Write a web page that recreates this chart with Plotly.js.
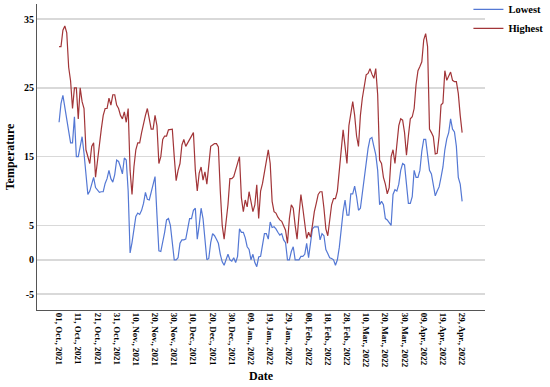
<!DOCTYPE html>
<html>
<head>
<meta charset="utf-8">
<script src="https://cdn.plot.ly/plotly-3.0.1.min.js"></script>
<style>
html,body{margin:0;padding:0;background:#fff;}
#chart{width:550px;height:387px;}
</style>
</head>
<body>
<div id="chart"></div>
<script>
// Daily series starting 01 Oct 2021 (211 days, to 29 Apr 2022)
var startDate = '2021-10-01';
var highest = [
31,31,33.4,34,33,28,26,22,25,25,
20.5,25,23,22,16,15,14,16.5,17,12,
14.5,16.5,19,21,22,22,23.5,22.5,24,24,
22.5,22,21,20.5,21.5,20,22,13,9.5,13.5,
16,17,17,18.5,20,21,22,20.5,19,19,
21,19.5,14,15,17.5,18,18,18.9,19,19,
15,11.5,13,14,16.7,17.5,16.5,17,17.3,18,
18.5,13,10,12.6,13.5,11.6,12.8,11,14,16.5,
16.7,16.9,16.9,16.4,10,5,3,5.3,8,11.8,
11.8,12.1,13,14,15,9,7,8.7,7.7,9.9,
8.2,7,8,10.9,6,10,11.1,12.6,14,16,
14,8.5,7,6.8,6.2,5.8,5.6,5,4.3,2.4,
6,8,7.5,5,3,6.5,9.5,7.5,5,3.1,
4,3.3,5,7,8.2,9.5,9.9,9.9,7.5,4.5,
3.5,5.8,8,8.9,8.9,10,13,16,18.9,16.5,
14,19.5,21.5,23,21,18,16.5,21,23.5,25.5,
26.9,27.1,27.8,27,26.4,27.8,24,14.5,14,12,
11,9.6,10.5,15,16,14,17,19.5,20.5,20.3,
18.5,15.2,18,20.5,20.8,22,25.5,27.5,28.1,28.8,
32,32.9,31,19,18.5,17.9,15.4,15.5,18,22.5,
22.8,27.5,26.1,26.8,27.3,26.1,25.9,25.9,24.2,21,
18.5
];
var lowest = [
20,22.7,23.9,22,20,18.7,17,17,20.8,15,
15,16.4,17.9,15.5,12,9.5,10,11.1,12,10.5,
10.1,9.8,9.9,9.9,11.1,11.8,13,11.8,11.3,12.4,
14.5,14.3,13.5,12.5,14.8,14.5,10,1,2.5,4.5,
6.3,6.8,6.6,7.2,8.2,9.8,8.8,8.7,9.8,11,
12.1,6.5,1.3,1.2,2.5,4,5.8,6,5,2.5,
0,0,0.3,2.4,2.9,2.9,3,4.5,6,6,
7.2,7.5,3,5,7.5,6,2.5,0,0.2,2.5,
3.8,3.5,3,2.4,0.8,-0.3,-0.8,0,0.8,0,
-0.2,0.3,-0.4,0.5,4.5,4,4,3.2,1.9,1.5,
0,0.8,-0.4,-1,0.4,0.5,2.5,3.8,3.8,3,
5.5,4.7,4.8,4.5,4,3.6,3.8,2.9,2.5,0,
0,1.2,1.9,0,0,0,0.5,0.5,0.8,2.4,
0.3,2.8,4.5,4.8,4.8,4.8,2.9,3.8,3.5,1.5,
0.9,0.3,0.2,0,-0.8,0,1.8,4.8,7,8.7,
6.5,6.5,9.6,9.6,10.7,9.2,7.2,7.5,9.8,12,
13.8,16.2,17.6,17.8,16.5,15.3,13,8,8.5,8,
6,5.8,5.4,5,9.5,10.2,10,11,13,14,
13.8,10.5,8.2,8.2,9.2,13,12,12,13,15.8,
17.5,17.5,15.3,13,12.5,11.1,9.3,10,10.6,12,
13.5,16,17.6,18.5,20.5,19,18.6,16.5,12,11,
8.5
];
var tickDates = ['2021-10-01','2021-10-11','2021-10-21','2021-10-31','2021-11-10','2021-11-20','2021-11-30',
  '2021-12-10','2021-12-20','2021-12-30','2022-01-09','2022-01-19','2022-01-29','2022-02-08','2022-02-18',
  '2022-02-28','2022-03-10','2022-03-20','2022-03-30','2022-04-09','2022-04-19','2022-04-29'];
var tickLabels = ['01, Oct., 2021','11, Oct., 2021','21, Oct., 2021','31, Oct., 2021','10, Nov., 2021','20, Nov., 2021','30, Nov., 2021',
  '10, Dec., 2021','20, Dec., 2021','30, Dec., 2021','09, Jan., 2022','19, Jan., 2022','29, Jan., 2022','08, Feb., 2022','18, Feb., 2022',
  '28, Feb., 2022','10, Mar., 2022','20, Mar., 2022','30, Mar., 2022','09, Apr., 2022','19, Apr., 2022','29, Apr., 2022'];
var yTicks = [-5, 0, 5, 15, 25, 35];

function buildDates(start, n){
  var out = [];
  var t0 = Date.parse(start + 'T00:00:00Z');
  for (var i = 0; i < n; i++){
    out.push(new Date(t0 + i*86400000).toISOString().slice(0,10));
  }
  return out;
}
var dates = buildDates(startDate, highest.length);

var serif = 'Liberation Serif, Times New Roman, serif';
var traces = [
  {x: dates, y: lowest, name: 'Lowest', type: 'scatter', mode: 'lines',
   line: {color: '#5478d4', width: 1.2}},
  {x: dates, y: highest, name: 'Highest', type: 'scatter', mode: 'lines',
   line: {color: '#a23538', width: 1.2}}
];
var layout = {
  width: 550, height: 387,
  margin: {l: 37, r: 65, t: 4, b: 77, autoexpand: false},
  paper_bgcolor: '#fff', plot_bgcolor: '#fff',
  font: {family: serif, color: '#000'},
  showlegend: true,
  legend: {x: 0.963, y: 1.03, xanchor: 'left', yanchor: 'top',
    font: {family: serif, size: 10.5, color: '#000', weight: 'bold'},
    bgcolor: 'rgba(0,0,0,0)', tracegroupgap: 0},
  xaxis: {
    type: 'date',
    range: ['2021-09-19 12:00', '2022-05-10 22:00'],
    tickmode: 'array', tickvals: tickDates, ticktext: tickLabels,
    tickangle: 90, ticks: '',
    tickfont: {family: serif, size: 9, color: '#000', weight: 'bold'},
    showgrid: false, zeroline: false,
    showline: true, linecolor: '#555', linewidth: 1,
    title: {text: 'Date', font: {family: serif, size: 12, color: '#000', weight: 'bold'}, standoff: 4}
  },
  yaxis: {
    range: [-7.3, 37.2],
    tickmode: 'array', tickvals: yTicks, ticktext: yTicks.map(String),
    ticks: '',
    tickfont: {family: serif, size: 10, color: '#000', weight: 'bold'},
    showgrid: true, gridcolor: '#d9d9d9', gridwidth: 1.5,
    zeroline: false,
    showline: true, linecolor: '#555', linewidth: 1,
    title: {text: 'Temperature', font: {family: serif, size: 12, color: '#000', weight: 'bold'}, standoff: 6}
  }
};
Plotly.newPlot('chart', traces, layout, {displayModeBar: false, staticPlot: true});
</script>
</body>
</html>
